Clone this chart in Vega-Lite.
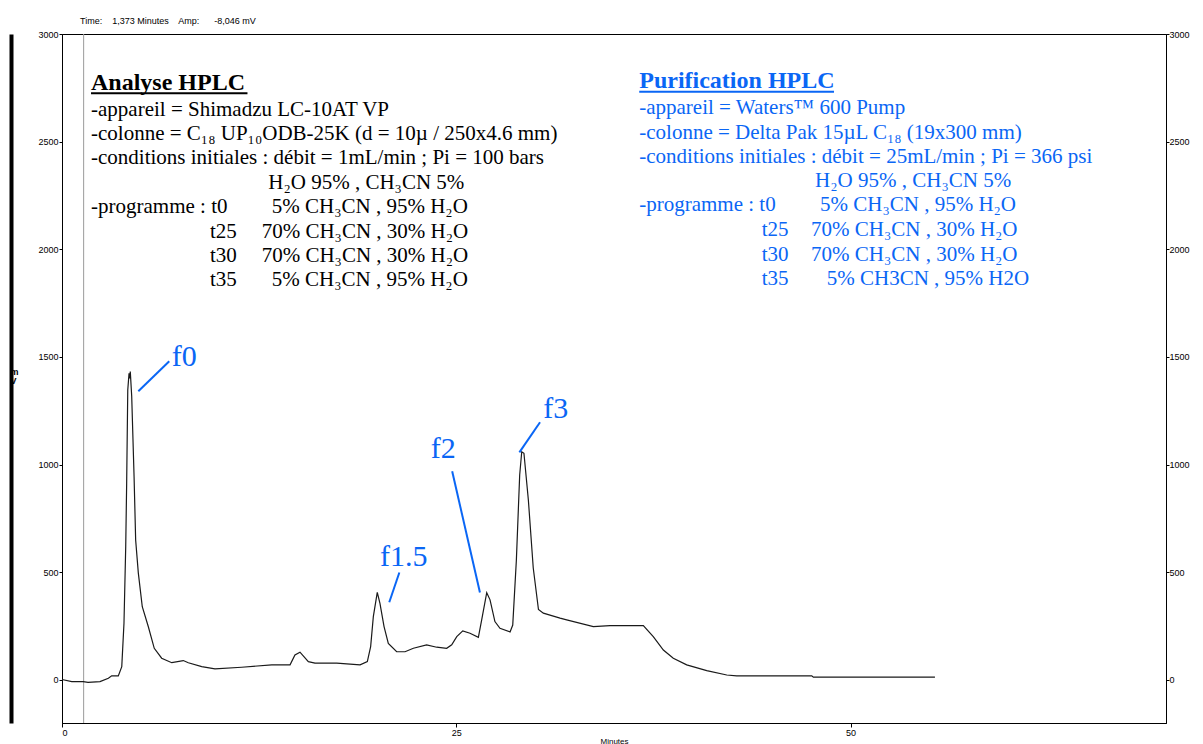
{
  "$schema": "https://vega.github.io/schema/vega-lite/v6.json",
  "width": 1104,
  "height": 689,
  "autosize": {"type": "none"},
  "padding": {"left": 62, "top": 34, "right": 37, "bottom": 21},
  "background": "white",
  "title": {
    "text": "Time:\u00a0\u00a0\u00a0 1,373 Minutes\u00a0\u00a0\u00a0 Amp:\u00a0\u00a0\u00a0\u00a0\u00a0 -8,046 mV",
    "anchor": "start",
    "frame": "group",
    "dx": 18,
    "offset": 4,
    "font": "Liberation Sans",
    "fontSize": 9,
    "fontWeight": "normal",
    "color": "#000000"
  },
  "datasets": {
    "trace": [
      {"t": 0, "mv": 2}, {"t": 0.62, "mv": -8}, {"t": 1.35, "mv": -8}, {"t": 1.65, "mv": -11},
      {"t": 2.41, "mv": -8}, {"t": 2.94, "mv": 8}, {"t": 3.15, "mv": 19}, {"t": 3.57, "mv": 19},
      {"t": 3.79, "mv": 62}, {"t": 3.93, "mv": 263}, {"t": 4.04, "mv": 619}, {"t": 4.10, "mv": 914},
      {"t": 4.17, "mv": 1347}, {"t": 4.25, "mv": 1424}, {"t": 4.29, "mv": 1400}, {"t": 4.33, "mv": 1432},
      {"t": 4.42, "mv": 1316}, {"t": 4.57, "mv": 944}, {"t": 4.67, "mv": 650}, {"t": 4.84, "mv": 496},
      {"t": 5.09, "mv": 340}, {"t": 5.47, "mv": 248}, {"t": 5.85, "mv": 147}, {"t": 6.32, "mv": 101},
      {"t": 6.96, "mv": 80}, {"t": 7.69, "mv": 90}, {"t": 8.01, "mv": 80}, {"t": 8.86, "mv": 62},
      {"t": 9.70, "mv": 51}, {"t": 11.39, "mv": 59}, {"t": 13.30, "mv": 70}, {"t": 14.46, "mv": 70},
      {"t": 14.77, "mv": 116}, {"t": 15.09, "mv": 129}, {"t": 15.62, "mv": 85}, {"t": 16.04, "mv": 78},
      {"t": 17.42, "mv": 78}, {"t": 18.90, "mv": 70}, {"t": 19.36, "mv": 85}, {"t": 19.57, "mv": 155},
      {"t": 19.74, "mv": 294}, {"t": 19.99, "mv": 407}, {"t": 20.16, "mv": 356}, {"t": 20.42, "mv": 248},
      {"t": 20.69, "mv": 170}, {"t": 21.22, "mv": 131}, {"t": 21.75, "mv": 131}, {"t": 22.28, "mv": 147},
      {"t": 23.12, "mv": 163}, {"t": 23.76, "mv": 152}, {"t": 24.39, "mv": 147}, {"t": 24.71, "mv": 163},
      {"t": 25.03, "mv": 201}, {"t": 25.41, "mv": 228}, {"t": 25.87, "mv": 217}, {"t": 26.40, "mv": 198},
      {"t": 26.61, "mv": 279}, {"t": 26.93, "mv": 405}, {"t": 27.14, "mv": 372}, {"t": 27.45, "mv": 271},
      {"t": 27.77, "mv": 240}, {"t": 28.41, "mv": 223}, {"t": 28.58, "mv": 255}, {"t": 28.81, "mv": 557},
      {"t": 29.02, "mv": 952}, {"t": 29.15, "mv": 1060}, {"t": 29.29, "mv": 1053}, {"t": 29.57, "mv": 836},
      {"t": 29.88, "mv": 520}, {"t": 30.21, "mv": 327}, {"t": 30.52, "mv": 310}, {"t": 31.58, "mv": 287},
      {"t": 32.0, "mv": 279}, {"t": 33.69, "mv": 248}, {"t": 34.75, "mv": 252}, {"t": 36.86, "mv": 252},
      {"t": 37.49, "mv": 201}, {"t": 38.13, "mv": 139}, {"t": 38.76, "mv": 101}, {"t": 39.61, "mv": 70},
      {"t": 40.88, "mv": 43}, {"t": 42.15, "mv": 23}, {"t": 42.78, "mv": 19}, {"t": 47.54, "mv": 19},
      {"t": 47.64, "mv": 13}, {"t": 55.35, "mv": 13}
    ],
    "notes": [
      {"block": "Analyse", "x": 1.84, "y": 2620, "text": "-appareil = Shimadzu LC-10AT VP"},
      {"block": "Analyse", "x": 1.84, "y": 2507, "text": "-colonne = C₁₈ UP₁₀ODB-25K (d = 10µ / 250x4.6 mm)"},
      {"block": "Analyse", "x": 1.84, "y": 2394, "text": "-conditions initiales : débit = 1mL/min ; Pi = 100 bars"},
      {"block": "Analyse", "x": 13.08, "y": 2282, "text": "H₂O 95% , CH₃CN 5%"},
      {"block": "Analyse", "x": 1.84, "y": 2169, "text": "-programme : t0"},
      {"block": "Analyse", "x": 13.30, "y": 2169, "text": "5% CH₃CN , 95% H₂O"},
      {"block": "Analyse", "x": 9.38, "y": 2054, "text": "t25"},
      {"block": "Analyse", "x": 12.66, "y": 2054, "text": "70% CH₃CN , 30% H₂O"},
      {"block": "Analyse", "x": 9.38, "y": 1941, "text": "t30"},
      {"block": "Analyse", "x": 12.66, "y": 1941, "text": "70% CH₃CN , 30% H₂O"},
      {"block": "Analyse", "x": 9.38, "y": 1829, "text": "t35"},
      {"block": "Analyse", "x": 13.30, "y": 1829, "text": "5% CH₃CN , 95% H₂O"},
      {"block": "Purification", "x": 36.60, "y": 2627, "text": "-appareil = Waters™ 600 Pump"},
      {"block": "Purification", "x": 36.60, "y": 2514, "text": "-colonne = Delta Pak 15µL C₁₈ (19x300 mm)"},
      {"block": "Purification", "x": 36.60, "y": 2401, "text": "-conditions initiales : débit = 25mL/min ; Pi = 366 psi"},
      {"block": "Purification", "x": 47.75, "y": 2289, "text": "H₂O 95% , CH₃CN 5%"},
      {"block": "Purification", "x": 36.60, "y": 2176, "text": "-programme : t0"},
      {"block": "Purification", "x": 48.06, "y": 2176, "text": "5% CH₃CN , 95% H₂O"},
      {"block": "Purification", "x": 44.37, "y": 2061, "text": "t25"},
      {"block": "Purification", "x": 47.49, "y": 2061, "text": "70% CH₃CN , 30% H₂O"},
      {"block": "Purification", "x": 44.37, "y": 1948, "text": "t30"},
      {"block": "Purification", "x": 47.49, "y": 1948, "text": "70% CH₃CN , 30% H₂O"},
      {"block": "Purification", "x": 44.37, "y": 1836, "text": "t35"},
      {"block": "Purification", "x": 48.49, "y": 1836, "text": "5% CH3CN , 95% H2O"}
    ],
    "headings": [
      {"block": "Analyse", "x": 1.84, "y": 2741, "x2": 11.76, "yu": 2725, "text": "Analyse HPLC"},
      {"block": "Purification", "x": 36.60, "y": 2748, "x2": 48.95, "yu": 2732, "text": "Purification HPLC"}
    ],
    "peaks": [
      {"label": "f0", "tx": 6.96, "ty": 1457, "x1": 4.84, "y1": 1341, "x2": 6.80, "y2": 1480},
      {"label": "f1.5", "tx": 20.16, "ty": 527, "x1": 21.39, "y1": 499, "x2": 20.75, "y2": 361},
      {"label": "f2", "tx": 23.38, "ty": 1031, "x1": 24.74, "y1": 969, "x2": 26.50, "y2": 406},
      {"label": "f3", "tx": 30.52, "ty": 1217, "x1": 30.31, "y1": 1197, "x2": 29.0, "y2": 1057}
    ],
    "cursor": [{"t": 1.373}]
  },
  "layer": [
    {
      "data": {"name": "cursor"},
      "mark": {"type": "rule", "color": "#9a9a9a", "strokeWidth": 1},
      "encoding": {
        "x": {"field": "t", "type": "quantitative", "scale": {"domain": [0, 70], "nice": false, "zero": false},
          "axis": {"orient": "bottom", "values": [0, 25, 50], "format": "d", "tickSize": 4, "labelPadding": 1, "labelFont": "Liberation Sans", "labelFontSize": 9, "labelColor": "#000", "tickColor": "#000", "domainColor": "#000", "grid": false, "title": "Minutes", "titleFont": "Liberation Sans", "titleFontSize": 8, "titleFontWeight": "normal", "titleColor": "#000", "titlePadding": 0, "titleX": 552}}
      }
    },
    {
      "data": {"name": "trace"},
      "mark": {"type": "line", "color": "#1a1a1a", "strokeWidth": 1.2, "interpolate": "linear"},
      "encoding": {
        "x": {"field": "t", "type": "quantitative", "scale": {"domain": [0, 70], "nice": false, "zero": false}, "axis": null},
        "y": {"field": "mv", "type": "quantitative", "scale": {"domain": [-200, 3000], "nice": false, "zero": false},
          "axis": {"orient": "left", "values": [0, 500, 1000, 1500, 2000, 2500, 3000], "format": "d", "tickSize": 3, "labelPadding": 1, "labelFont": "Liberation Sans", "labelFontSize": 9, "labelColor": "#000", "tickColor": "#000", "domainColor": "#000", "grid": false,
            "title": ["m", "V"], "titleAngle": 0, "titleFont": "Liberation Sans", "titleFontSize": 9, "titleFontWeight": "bold", "titleColor": "#000", "titleX": -52, "titleY": 333, "titleAlign": "left", "titleBaseline": "top", "titleLineHeight": 9}}
      }
    },
    {
      "data": {"name": "notes"},
      "mark": {"type": "text", "font": "Liberation Serif", "fontSize": 21, "align": "left", "baseline": "alphabetic"},
      "encoding": {
        "x": {"field": "x", "type": "quantitative", "scale": {"domain": [0, 70], "nice": false, "zero": false}, "axis": null},
        "y": {"field": "y", "type": "quantitative", "scale": {"domain": [-200, 3000], "nice": false, "zero": false},
          "axis": {"orient": "right", "values": [0, 500, 1000, 1500, 2000, 2500, 3000], "format": "d", "tickSize": 3, "labelPadding": 0, "labelFont": "Liberation Sans", "labelFontSize": 9, "labelColor": "#000", "tickColor": "#000", "domainColor": "#000", "grid": false, "title": null}},
        "text": {"field": "text"},
        "color": {"field": "block", "type": "nominal", "scale": {"domain": ["Analyse", "Purification"], "range": ["#000000", "#0a66f5"]}, "legend": null}
      }
    },
    {
      "data": {"name": "headings"},
      "mark": {"type": "text", "font": "Liberation Serif", "fontSize": 24, "fontWeight": "bold", "align": "left", "baseline": "alphabetic"},
      "encoding": {
        "x": {"field": "x", "type": "quantitative", "scale": {"domain": [0, 70], "nice": false, "zero": false}, "axis": null},
        "y": {"field": "y", "type": "quantitative", "scale": {"domain": [-200, 3000], "nice": false, "zero": false}, "axis": null},
        "text": {"field": "text"},
        "color": {"field": "block", "type": "nominal", "scale": {"domain": ["Analyse", "Purification"], "range": ["#000000", "#0a66f5"]}, "legend": null}
      }
    },
    {
      "data": {"name": "headings"},
      "mark": {"type": "rule", "strokeWidth": 2},
      "encoding": {
        "x": {"field": "x", "type": "quantitative", "scale": {"domain": [0, 70], "nice": false, "zero": false}, "axis": null},
        "x2": {"field": "x2"},
        "y": {"field": "yu", "type": "quantitative", "scale": {"domain": [-200, 3000], "nice": false, "zero": false},
          "axis": {"orient": "left", "offset": 51, "domain": true, "domainWidth": 4, "domainColor": "#000", "ticks": false, "labels": false, "grid": false, "title": null}},
        "color": {"field": "block", "type": "nominal", "scale": {"domain": ["Analyse", "Purification"], "range": ["#000000", "#0a66f5"]}, "legend": null}
      }
    },
    {
      "data": {"name": "peaks"},
      "mark": {"type": "rule", "color": "#0a66f5", "strokeWidth": 2},
      "encoding": {
        "x": {"field": "x1", "type": "quantitative", "scale": {"domain": [0, 70], "nice": false, "zero": false}, "axis": null},
        "x2": {"field": "x2"},
        "y": {"field": "y1", "type": "quantitative", "scale": {"domain": [-200, 3000], "nice": false, "zero": false}, "axis": null},
        "y2": {"field": "y2"}
      }
    },
    {
      "data": {"name": "peaks"},
      "mark": {"type": "text", "font": "Liberation Serif", "fontSize": 30, "color": "#0a66f5", "align": "left", "baseline": "alphabetic"},
      "encoding": {
        "x": {"field": "tx", "type": "quantitative", "scale": {"domain": [0, 70], "nice": false, "zero": false}, "axis": null},
        "y": {"field": "ty", "type": "quantitative", "scale": {"domain": [-200, 3000], "nice": false, "zero": false}, "axis": null},
        "text": {"field": "label"}
      }
    }
  ],
  "resolve": {"axis": {"y": "independent", "x": "independent"}},
  "config": {
    "view": {"stroke": "#000000", "strokeWidth": 1},
    "axis": {"domainWidth": 1, "tickWidth": 1}
  }
}
